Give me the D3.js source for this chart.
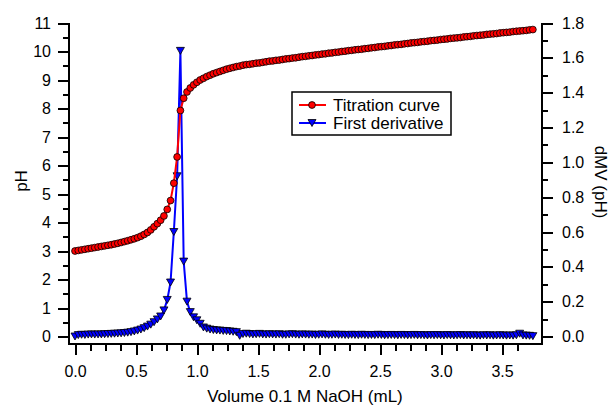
<!DOCTYPE html>
<html>
<head>
<meta charset="utf-8">
<script src="https://cdn.jsdelivr.net/npm/d3@7"></script>
<style>
  body { margin: 0; background: #fff; }
  text { font-family: "Liberation Sans", Arial, Helvetica, sans-serif; fill: #000; }
  .axis path, .axis line { stroke: #000; stroke-width: 2; shape-rendering: crispEdges; }
</style>
</head>
<body>
<div id="chart"></div>
<script>
  // volume of titrant (mL), one entry per reading
  var volume = [
    0, 0.027, 0.054, 0.081, 0.108, 0.135, 0.162, 0.189, 0.216, 0.243,
    0.27, 0.297, 0.324, 0.351, 0.378, 0.405, 0.432, 0.459, 0.486, 0.513,
    0.54, 0.567, 0.594, 0.621, 0.648, 0.675, 0.702, 0.729, 0.756, 0.783,
    0.81, 0.837, 0.864, 0.891, 0.918, 0.945, 0.972, 0.999, 1.026, 1.053,
    1.08, 1.107, 1.134, 1.161, 1.188, 1.215, 1.242, 1.269, 1.296, 1.323,
    1.35, 1.377, 1.404, 1.431, 1.458, 1.485, 1.512, 1.539, 1.566, 1.593,
    1.62, 1.647, 1.674, 1.701, 1.728, 1.755, 1.782, 1.809, 1.836, 1.863,
    1.89, 1.917, 1.944, 1.971, 1.998, 2.025, 2.052, 2.079, 2.106, 2.133,
    2.16, 2.187, 2.214, 2.241, 2.268, 2.295, 2.322, 2.349, 2.376, 2.403,
    2.43, 2.457, 2.484, 2.511, 2.538, 2.565, 2.592, 2.619, 2.646, 2.673,
    2.7, 2.727, 2.754, 2.781, 2.808, 2.835, 2.862, 2.889, 2.916, 2.943,
    2.97, 2.997, 3.024, 3.051, 3.078, 3.105, 3.132, 3.159, 3.186, 3.213,
    3.24, 3.267, 3.294, 3.321, 3.348, 3.375, 3.402, 3.429, 3.456, 3.483,
    3.51, 3.537, 3.564, 3.591, 3.618, 3.645, 3.672, 3.699, 3.726, 3.753
  ];

  var ph = [
    3.00, 3.02, 3.04, 3.06, 3.08, 3.10, 3.12, 3.14, 3.16, 3.18,
    3.20, 3.22, 3.245, 3.27, 3.30, 3.33, 3.36, 3.395, 3.43, 3.47,
    3.52, 3.58, 3.65, 3.74, 3.85, 3.96, 4.08, 4.23, 4.46, 4.77,
    5.38, 6.30, 7.93, 8.36, 8.58, 8.72, 8.83, 8.92, 9.00, 9.06,
    9.12, 9.17, 9.22, 9.26, 9.30, 9.34, 9.38, 9.41, 9.44, 9.47,
    9.49,
    9.52, 9.54, 9.55, 9.57, 9.59, 9.60, 9.62, 9.64, 9.66, 9.67,
    9.69, 9.70, 9.72, 9.74, 9.75, 9.77, 9.78, 9.80, 9.82, 9.83,
    9.85, 9.86, 9.88, 9.89, 9.91, 9.92, 9.94, 9.95, 9.97, 9.98,
    10.00, 10.01, 10.03, 10.04, 10.06, 10.07, 10.08, 10.10, 10.11, 10.13,
    10.14, 10.16, 10.17, 10.18, 10.20, 10.21, 10.23, 10.24, 10.25, 10.27,
    10.28, 10.30, 10.31, 10.32, 10.34, 10.35, 10.36, 10.38, 10.39, 10.40,
    10.42, 10.43, 10.44, 10.46, 10.47, 10.48, 10.49, 10.51, 10.52, 10.53,
    10.55, 10.56, 10.57, 10.58, 10.60, 10.61, 10.62, 10.63, 10.65, 10.66,
    10.67, 10.68, 10.70, 10.71, 10.72, 10.73, 10.74, 10.76, 10.77
  ];

  // first derivative, right axis
  var dmv = [
    0.000, 0.008, 0.010, 0.009, 0.011, 0.012, 0.011, 0.012, 0.012, 0.013,
    0.014, 0.015, 0.016, 0.017, 0.018, 0.020, 0.022, 0.025, 0.029, 0.034,
    0.040, 0.048, 0.057, 0.068, 0.082, 0.098, 0.115, 0.150, 0.210, 0.310,
    0.600, 0.920, 1.640, 0.430, 0.200, 0.140, 0.110, 0.093, 0.073, 0.052,
    0.045, 0.040, 0.037, 0.035, 0.034, 0.032, 0.031, 0.029, 0.027, 0.025,
    0.004,
    0.014, 0.016, 0.014, 0.012, 0.013, 0.015, 0.012, 0.011, 0.013, 0.012,
    0.011, 0.013, 0.010, 0.010, 0.012, 0.013, 0.011, 0.010, 0.012, 0.011,
    0.010, 0.011, 0.009, 0.010, 0.012, 0.010, 0.009, 0.010, 0.011, 0.009,
    0.010, 0.009, 0.008, 0.010, 0.009, 0.008, 0.010, 0.009, 0.008, 0.009,
    0.008, 0.010, 0.009, 0.007, 0.008, 0.009, 0.008, 0.007, 0.009, 0.008,
    0.007, 0.008, 0.009, 0.007, 0.008, 0.007, 0.006, 0.008, 0.007, 0.008,
    0.007, 0.006, 0.008, 0.007, 0.006, 0.007, 0.008, 0.006, 0.007, 0.006,
    0.007, 0.006, 0.005, 0.007, 0.006, 0.007, 0.005, 0.006, 0.007, 0.006,
    0.005, 0.006, 0.005, 0.007, 0.016, 0.006, 0.005, 0.004, 0.002
  ];

  var xMajor = [0, 0.5, 1, 1.5, 2, 2.5, 3, 3.5];
  var leftMajor = [0, 1, 2, 3, 4, 5, 6, 7, 8, 9, 10, 11];
  var rightMajor = [0, 0.2, 0.4, 0.6, 0.8, 1.0, 1.2, 1.4, 1.6, 1.8];

  var width = 612, height = 405;
  var plotLeft = 69, plotRight = 542, plotBottom = 343.5, plotTop = 23;

  var svg = d3.select('#chart').append('svg')
    .attr('width', width)
    .attr('height', height);

  var x = d3.scaleLinear().domain([0, 3.5]).range([75, 502]);
  var yL = d3.scaleLinear().domain([0, 11]).range([336.5, plotTop]);
  var yR = d3.scaleLinear().domain([0, 1.8]).range([336.5, plotTop]);

  var xMinor = d3.range(0, 30).map(function(i) { return i * 0.125; })
    .filter(function(v) { return v % 0.5 !== 0; });
  var leftMinor = d3.range(0, 11).map(function(i) { return i + 0.5; });
  var rightMinor = d3.range(0, 9).map(function(i) { return i * 0.2 + 0.1; });

  // axes
  function addAxis(axis, tx, ty) {
    var g = svg.append('g').attr('class', 'axis')
      .attr('transform', 'translate(' + tx + ',' + ty + ')')
      .call(axis);
    g.select('.domain').remove();
    g.selectAll('text').style('font-size', '16px');
    return g;
  }

  addAxis(d3.axisBottom(x).tickValues(xMajor).tickSize(11).tickPadding(11)
    .tickFormat(d3.format('.1f')), 0, plotBottom);
  addAxis(d3.axisBottom(x).tickValues(xMinor).tickSize(7).tickFormat(''), 0, plotBottom);

  addAxis(d3.axisLeft(yL).tickValues(leftMajor).tickSize(11).tickPadding(7)
    .tickFormat(d3.format('d')), plotLeft, 0);
  addAxis(d3.axisLeft(yL).tickValues(leftMinor).tickSize(6).tickFormat(''), plotLeft, 0);

  addAxis(d3.axisRight(yR).tickValues(rightMajor).tickSize(11).tickPadding(9)
    .tickFormat(d3.format('.1f')), plotRight, 0);
  addAxis(d3.axisRight(yR).tickValues(rightMinor).tickSize(6).tickFormat(''), plotRight, 0);

  var frame = svg.append('g').attr('class', 'axis');
  frame.append('line').attr('x1', plotLeft).attr('x2', plotRight)
    .attr('y1', plotBottom).attr('y2', plotBottom);
  frame.append('line').attr('x1', plotLeft).attr('x2', plotLeft)
    .attr('y1', plotTop).attr('y2', plotBottom + 1);
  frame.append('line').attr('x1', plotRight).attr('x2', plotRight)
    .attr('y1', plotTop).attr('y2', plotBottom + 1);

  // axis titles
  svg.append('text')
    .attr('transform', 'translate(27,181) rotate(-90)')
    .attr('text-anchor', 'middle')
    .style('font-size', '17px')
    .text('pH');

  svg.append('text')
    .attr('transform', 'translate(595,182) rotate(90)')
    .attr('text-anchor', 'middle')
    .style('font-size', '17px')
    .text('dMV (pH)');

  svg.append('text')
    .attr('x', 305).attr('y', 402)
    .attr('text-anchor', 'middle')
    .style('font-size', '17px')
    .text('Volume 0.1 M NaOH (mL)');

  var tri = 'M-4,-3.5L4,-3.5L0,3.5Z';

  // first derivative (blue)
  var derivLine = d3.line()
    .x(function(d, i) { return x(volume[i]); })
    .y(function(d) { return yR(d); });

  svg.append('path')
    .datum(dmv)
    .attr('d', derivLine)
    .attr('fill', 'none')
    .attr('stroke', '#0000ff')
    .attr('stroke-width', 2);

  svg.append('g').selectAll('path')
    .data(dmv).enter().append('path')
    .attr('d', tri)
    .attr('transform', function(d, i) {
      return 'translate(' + x(volume[i]) + ',' + yR(d) + ')';
    })
    .attr('fill', '#0000ff')
    .attr('stroke', '#000')
    .attr('stroke-width', 0.8);

  // titration curve (red)
  var phLine = d3.line()
    .x(function(d, i) { return x(volume[i]); })
    .y(function(d) { return yL(d); });

  svg.append('path')
    .datum(ph)
    .attr('d', phLine)
    .attr('fill', 'none')
    .attr('stroke', '#ff0000')
    .attr('stroke-width', 2);

  svg.append('g').selectAll('circle')
    .data(ph).enter().append('circle')
    .attr('cx', function(d, i) { return x(volume[i]); })
    .attr('cy', function(d) { return yL(d); })
    .attr('r', 3.4)
    .attr('fill', '#ff0000')
    .attr('stroke', '#000')
    .attr('stroke-width', 0.8);

  // legend
  var legend = svg.append('g').attr('transform', 'translate(292,92)');
  legend.append('rect')
    .attr('width', 159).attr('height', 43)
    .attr('fill', '#fff')
    .attr('stroke', '#000')
    .attr('stroke-width', 1.5);

  var items = [
    { label: 'Titration curve', color: '#ff0000', y: 13 },
    { label: 'First derivative', color: '#0000ff', y: 31 }
  ];

  var row = legend.selectAll('g.item').data(items).enter().append('g')
    .attr('class', 'item')
    .attr('transform', function(d) { return 'translate(0,' + d.y + ')'; });

  row.append('line')
    .attr('x1', 7).attr('x2', 34)
    .attr('stroke', function(d) { return d.color; })
    .attr('stroke-width', 2);

  row.filter(function(d, i) { return i === 0; }).append('circle')
    .attr('cx', 20).attr('r', 3.4)
    .attr('fill', '#ff0000').attr('stroke', '#000').attr('stroke-width', 0.8);

  row.filter(function(d, i) { return i === 1; }).append('path')
    .attr('d', tri)
    .attr('transform', 'translate(20,0)')
    .attr('fill', '#0000ff').attr('stroke', '#000').attr('stroke-width', 0.8);

  row.append('text')
    .attr('x', 41).attr('dy', '0.35em')
    .style('font-size', '17px')
    .text(function(d) { return d.label; });
</script>
</body>
</html>
